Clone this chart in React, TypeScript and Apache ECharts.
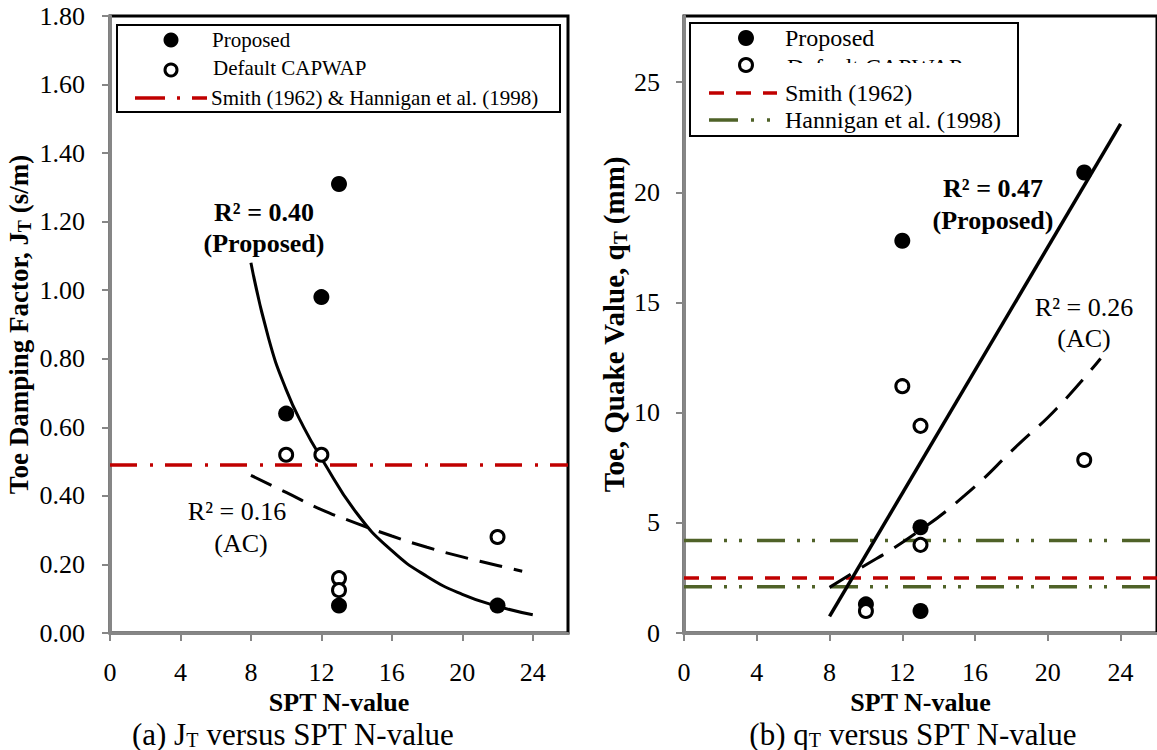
import React, { useEffect, useRef } from 'react';
import * as echarts from 'echarts';

const FONT = "'Liberation Serif', 'Times New Roman', serif";

// ---------- (a) Toe damping factor J_T ----------
const jPropN = [13, 12, 10, 13, 22];
const jPropV = [1.31, 0.98, 0.64, 0.08, 0.08];
const jDefN = [10, 12, 13, 13, 22];
const jDefV = [0.52, 0.52, 0.16, 0.125, 0.28];
const jFitPropN = [8, 9, 10, 11, 12, 14, 16, 18, 20, 22, 24];
const jFitPropV = [1.08, 0.86, 0.71, 0.6, 0.51, 0.35, 0.24, 0.165, 0.113, 0.078, 0.053];
const jFitAcN = [8, 10, 12, 14, 16, 18, 20, 22, 23.4];
const jFitAcV = [0.46, 0.41, 0.36, 0.32, 0.283, 0.25, 0.222, 0.197, 0.18];
const jSmith = 0.49;

// ---------- (b) Toe quake q_T ----------
const qPropN = [22, 12, 13, 10, 13];
const qPropV = [20.9, 17.8, 4.8, 1.3, 1.0];
const qDefN = [12, 13, 22, 13, 10];
const qDefV = [11.2, 9.4, 7.85, 4.0, 1.0];
const qFitPropN = [8, 24];
const qFitPropV = [0.75, 23.1];
const qFitAcN = [8, 9.3, 12.4, 15.4, 18.4, 20.5, 22.9];
const qFitAcV = [2.07, 2.74, 4.33, 6.22, 8.57, 10.2, 12.46];
const qSmith = 2.5;
const qHannigan = [2.1, 4.2];

const xRange = [0, 26];
const xTickLabels = [0, 4, 8, 12, 16, 20, 24];

const pairs = (xs: number[], ys: number[]) => xs.map((x, i) => [x, ys[i]]);

const GRAY = '#868686';
const RED = '#c00000';
const GREEN = '#4f6228';

const xAxisBase = (gridIndex: number) => ({
  type: 'value',
  gridIndex,
  min: xRange[0],
  max: xRange[1],
  interval: 4,
  axisLine: { show: true, onZero: false, lineStyle: { color: GRAY, width: 3 } },
  axisTick: { show: true, inside: false, length: 8, lineStyle: { color: GRAY, width: 2 } },
  axisLabel: {
    showMaxLabel: false,
    margin: 28,
    fontFamily: FONT,
    fontSize: 26,
    lineHeight: 22,
    color: '#000',
    formatter: (v: number) => (xTickLabels.includes(v) ? String(v) : ''),
  },
  splitLine: { show: false },
  name: 'SPT N-value',
  nameLocation: 'middle',
  nameGap: 58,
  nameMoveOverlap: false,
  nameTextStyle: { fontFamily: FONT, fontSize: 26, fontWeight: 'bold', color: '#000', lineHeight: 22 },
});

const yRich = (size: number) => ({
  b: { fontFamily: FONT, fontSize: size, fontWeight: 'bold', color: '#000', lineHeight: size + 4 },
  s: {
    fontFamily: FONT,
    fontSize: Math.round(size * 0.66),
    fontWeight: 'bold',
    color: '#000',
    lineHeight: Math.round(size * 0.66),
    verticalAlign: 'bottom',
  },
});

const scatterFilled = (xi: number, data: number[][]) => ({
  type: 'scatter',
  xAxisIndex: xi,
  yAxisIndex: xi,
  data,
  symbol: 'circle',
  symbolSize: 16,
  itemStyle: { color: '#000', opacity: 1 },
  z: 5,
});
const scatterHollow = (xi: number, data: number[][]) => ({
  type: 'scatter',
  xAxisIndex: xi,
  yAxisIndex: xi,
  data,
  symbol: 'circle',
  symbolSize: 13,
  itemStyle: { color: '#fff', borderColor: '#000', borderWidth: 3, opacity: 1 },
  z: 6,
});
const lineSeries = (xi: number, data: number[][], color: string, width: number, type: any, smooth = true) => ({
  type: 'line',
  xAxisIndex: xi,
  yAxisIndex: xi,
  data,
  smooth,
  showSymbol: false,
  symbol: 'none',
  lineStyle: { color, width, type, cap: 'butt' },
  z: 3,
});

const txt = (x: number, y: number, text: string, size: number, bold: boolean, align = 'center') => ({
  type: 'text',
  x,
  y,
  style: {
    text,
    fontFamily: FONT,
    fontSize: size,
    fontWeight: bold ? 'bold' : 'normal',
    fill: '#000',
    align,
    verticalAlign: 'middle',
  },
  z: 20,
});

const richTxt = (x: number, y: number, text: string, size: number) => ({
  type: 'text',
  x,
  y,
  style: {
    text,
    fontFamily: FONT,
    fontSize: size,
    fill: '#000',
    align: 'center',
    verticalAlign: 'middle',
    rich: {
      n: { fontFamily: FONT, fontSize: size, fill: '#000', lineHeight: size },
      s: { fontFamily: FONT, fontSize: Math.round(size * 0.65), fill: '#000', lineHeight: Math.round(size * 0.65), verticalAlign: 'bottom' },
    },
  },
  z: 20,
});

const option: any = {
  animation: false,
  backgroundColor: '#fff',
  grid: [
    { left: 110, top: 16, width: 458, height: 617, show: true, borderColor: '#000', borderWidth: 3, backgroundColor: 'transparent' },
    { left: 684, top: 16, width: 477, height: 617, show: true, borderColor: '#000', borderWidth: 3, backgroundColor: 'transparent' },
  ],
  xAxis: [xAxisBase(0), xAxisBase(1)],
  yAxis: [
    {
      type: 'value',
      gridIndex: 0,
      min: 0,
      max: 1.8,
      interval: 0.2,
      axisLine: { show: true, onZero: false, lineStyle: { color: GRAY, width: 3 } },
      axisTick: { show: true, inside: false, length: 8, lineStyle: { color: GRAY, width: 2 } },
      axisLabel: { margin: 25, fontFamily: FONT, fontSize: 26, color: '#000', formatter: (v: number) => v.toFixed(2) },
      splitLine: { show: false },
      name: '{b|Toe Damping Factor, J}{s|T}{b| (s/m)}',
      nameLocation: 'middle',
      nameGap: 76,
      nameTextStyle: { rich: yRich(27) },
    },
    {
      type: 'value',
      gridIndex: 1,
      min: 0,
      max: 28,
      interval: 5,
      axisLine: { show: true, onZero: false, lineStyle: { color: GRAY, width: 3 } },
      axisTick: { show: true, inside: false, length: 8, lineStyle: { color: GRAY, width: 2 } },
      axisLabel: { margin: 24, fontFamily: FONT, fontSize: 26, color: '#000', showMaxLabel: false },
      splitLine: { show: false },
      name: '{b|Toe, Quake Value, q}{s|T}{b| (mm)}',
      nameLocation: 'middle',
      nameGap: 48,
      nameTextStyle: { rich: yRich(29) },
    },
  ],
  series: [
    // (a)
    lineSeries(0, pairs(xRange, [jSmith, jSmith]), RED, 3.5, [27, 13, 3, 12], false),
    lineSeries(0, pairs(jFitPropN, jFitPropV), '#000', 3, 'solid'),
    lineSeries(0, pairs(jFitAcN, jFitAcV), '#000', 3, [23, 12]),
    scatterFilled(0, pairs(jPropN, jPropV)),
    scatterHollow(0, pairs(jDefN, jDefV)),
    // (b)
    lineSeries(1, pairs(xRange, [qHannigan[1], qHannigan[1]]), GREEN, 3.5, [28, 12, 3, 12, 3, 15], false),
    lineSeries(1, pairs(xRange, [qHannigan[0], qHannigan[0]]), GREEN, 3.5, [28, 12, 3, 12, 3, 15], false),
    lineSeries(1, pairs(xRange, [qSmith, qSmith]), RED, 3.5, [15, 12], false),
    lineSeries(1, pairs(qFitPropN, qFitPropV), '#000', 3.5, 'solid', false),
    lineSeries(1, pairs(qFitAcN, qFitAcV), '#000', 3, [25, 13]),
    scatterFilled(1, pairs(qPropN, qPropV)),
    scatterHollow(1, pairs(qDefN, qDefV)),
  ],
  graphic: [
    // left legend
    { type: 'rect', shape: { x: 117, y: 25, width: 443, height: 87 }, style: { fill: '#fff', stroke: '#000', lineWidth: 2 }, z: 15 },
    { type: 'circle', shape: { cx: 171, cy: 40, r: 7.5 }, style: { fill: '#000' }, z: 20 },
    { type: 'circle', shape: { cx: 171, cy: 70, r: 6 }, style: { fill: '#fff', stroke: '#000', lineWidth: 3 }, z: 20 },
    { type: 'line', shape: { x1: 135, y1: 98, x2: 207, y2: 98 }, style: { stroke: RED, lineWidth: 3.5, lineDash: [30, 12, 3, 12] }, z: 20 },
    txt(212, 40, 'Proposed', 21, false, 'left'),
    txt(213, 68, 'Default CAPWAP', 21, false, 'left'),
    txt(211, 98, 'Smith (1962) & Hannigan et al. (1998)', 21, false, 'left'),
    // right legend
    { type: 'rect', shape: { x: 690, y: 23, width: 328, height: 113 }, style: { fill: '#fff', stroke: '#000', lineWidth: 2 }, z: 15 },
    { type: 'circle', shape: { cx: 746, cy: 38, r: 8 }, style: { fill: '#000' }, z: 20 },
    { type: 'circle', shape: { cx: 746, cy: 65, r: 6.5 }, style: { fill: '#fff', stroke: '#000', lineWidth: 3 }, z: 20 },
    txt(785, 38, 'Proposed', 24, false, 'left'),
    txt(787, 67, 'Default CAPWAP', 24, false, 'left'),
    { type: 'rect', shape: { x: 780, y: 63, width: 220, height: 18 }, style: { fill: '#fff' }, z: 21 },
    { type: 'line', shape: { x1: 709, y1: 93, x2: 777, y2: 93 }, style: { stroke: RED, lineWidth: 3.5, lineDash: [15, 12] }, z: 22 },
    txt(785, 93, 'Smith (1962)', 24, false, 'left'),
    { type: 'line', shape: { x1: 709, y1: 120, x2: 777, y2: 120 }, style: { stroke: GREEN, lineWidth: 3.5, lineDash: [29, 13, 3, 13, 3, 13] }, z: 22 },
    txt(785, 120, 'Hannigan et al. (1998)', 24, false, 'left'),
    // annotations (a)
    txt(264, 212, 'R\u00b2 = 0.40', 26, true),
    txt(264, 243, '(Proposed)', 26, true),
    txt(237, 511, 'R\u00b2 = 0.16', 26, false),
    txt(241, 543, '(AC)', 26, false),
    // annotations (b)
    txt(993, 188, 'R\u00b2 = 0.47', 26, true),
    txt(993, 220, '(Proposed)', 26, true),
    txt(1084, 307, 'R\u00b2 = 0.26', 26, false),
    txt(1084, 338, '(AC)', 26, false),
    // captions
    richTxt(293, 734, '{n|(a) J}{s|T}{n| versus SPT N-value}', 31),
    richTxt(913, 734, '{n|(b) q}{s|T}{n| versus SPT N-value}', 31),
  ],
};

export default function App() {
  const ref = useRef<HTMLDivElement>(null);
  useEffect(() => {
    document.body.style.margin = '0';
    const chart = echarts.init(ref.current as HTMLDivElement, null, { renderer: 'svg' });
    chart.setOption(option);
    return () => chart.dispose();
  }, []);
  return (
    <div
      ref={ref}
      style={{ position: 'absolute', left: 0, top: 0, width: 1157, height: 750, background: '#fff' }}
    />
  );
}
